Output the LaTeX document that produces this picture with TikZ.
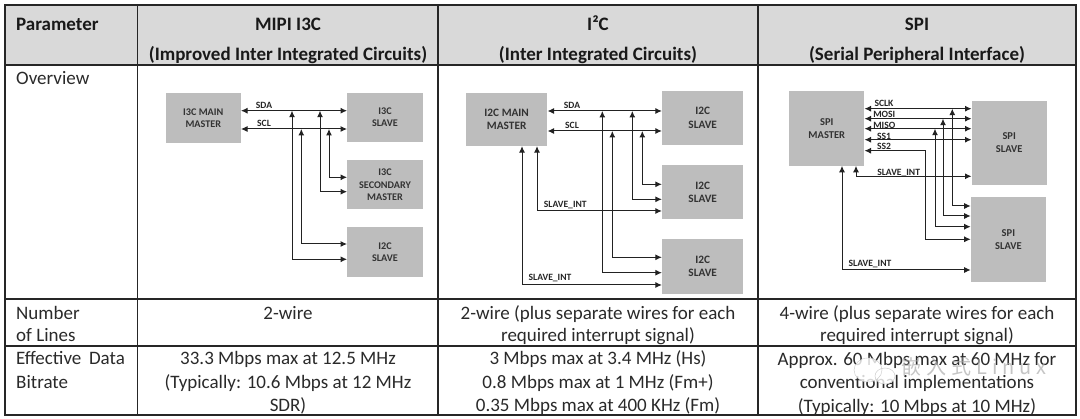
\documentclass[tikz,border=0pt]{standalone}
\usepackage{fontspec}
\setmainfont{Carlito}
\newfontfamily\cjkwm[LetterSpace=25]{Noto Sans CJK SC}
\usetikzlibrary{arrows.meta}
\definecolor{hdr}{HTML}{D9D9D9}
\definecolor{boxg}{HTML}{BDBDBD}
\definecolor{ink}{HTML}{2A2A2A}
\definecolor{wire}{HTML}{222222}
\tikzset{
  cellt/.style={inner sep=0pt,text=ink,yshift=-2.5pt,font=\fontsize{19}{22}\selectfont},
  lcell/.style={cellt,anchor=mid west},
  ccell/.style={cellt,anchor=mid},
  hcell/.style={inner sep=0pt,text=black!90,yshift=-2.5pt,font=\fontsize{19}{22}\selectfont\bfseries,anchor=mid},
  rule/.style={draw=black!85,line width=1.5pt},
  blockA/.style={fill=boxg,inner sep=0pt,align=center,text=black!80,font=\fontsize{10.2}{12.5}\selectfont\bfseries},
  blockB/.style={fill=boxg,inner sep=0pt,align=center,text=black!80,font=\fontsize{11.3}{13.5}\selectfont\bfseries},
  blockC/.style={fill=boxg,inner sep=0pt,align=center,text=black!80,font=\fontsize{10.5}{13}\selectfont\bfseries},
  sig/.style={inner sep=0pt,anchor=mid,yshift=-1pt,text=black!85,font=\fontsize{9.6}{10}\selectfont\bfseries},
  wa/.style={draw=wire,line width=1pt,{Latex[length=6.5pt,width=6pt]}-{Latex[length=6.5pt,width=6pt]}},
}
\begin{document}
\begin{tikzpicture}[x=1pt,y=-1pt]
\useasboundingbox (0,0) rectangle (1080,419);
\fill[white] (0,0) rectangle (1080,419);
% header
\fill[hdr] (5,5) rectangle (1076,65);
% rules
\coordinate (tl) at (5,5);
\coordinate (tr) at (1076,5);
\coordinate (bl) at (5,415);
\coordinate (br) at (1076,415);
\draw[rule] (tl) -- (tr) -- (br) -- (bl) -- cycle;
\draw[rule] (5,65) -- (1076,65);
\draw[rule] (5,299) -- (1076,299);
\draw[rule] (5,346) -- (1076,346);
\draw[rule] (137.5,5) -- (137.5,415);
\draw[rule] (438,5) -- (438,415);
\draw[rule] (758,5) -- (758,415);
% header text
\node[hcell,anchor=mid west] (hp) at (16,26) {Parameter};
\node[hcell] (h1a) at (288,26) {MIPI I3C};
\node[hcell] (h1b) at (288,55.5) {(Improved Inter Integrated Circuits)};
\node[hcell] (h2a) at (598,26) {I²C};
\node[hcell] (h2b) at (598,55.5) {(Inter Integrated Circuits)};
\node[hcell] (h3a) at (917,26) {SPI};
\node[hcell] (h3b) at (917,55.5) {(Serial Peripheral Interface)};
% first column
\node[lcell] (ov) at (16,80) {Overview};
\node[lcell] (n1) at (16,314.5) {Number};
\node[lcell] (n2) at (16,337) {of Lines};
\node[lcell] (e1) at (16,360) {Effective\hspace{0.4em}Data};
\node[lcell] (e2) at (16,384) {Bitrate};
% rows
\node[ccell] (r1a) at (288,314.5) {2-wire};
\node[ccell] (r1b) at (598,314.5) {2-wire (plus separate wires for each};
\node[ccell] (r1c) at (598,337) {required interrupt signal)};
\node[ccell] (r1d) at (917,314.5) {4-wire (plus separate wires for each};
\node[ccell] (r1e) at (917,337) {required interrupt signal)};
\node[ccell] (r2a) at (288,360) {33.3 Mbps max at 12.5 MHz};
\node[ccell] (r2b) at (288,384) {(Typically: 10.6 Mbps at 12 MHz};
\node[ccell] (r2c) at (288,407) {SDR)};
\node[ccell] (r2d) at (598,360) {3 Mbps max at 3.4 MHz (Hs)};
\node[ccell] (r2e) at (598,384) {0.8 Mbps max at 1 MHz (Fm+)};
\node[ccell] (r2f) at (598,407) {0.35 Mbps max at 400 KHz (Fm)};
\node[ccell] (r2g) at (917,360.5) {Approx. 60 Mbps max at 60 MHz for};
\node[ccell] (r2h) at (917,384) {conventional implementations};
\node[ccell] (r2i) at (917,407.5) {(Typically: 10 Mbps at 10 MHz)};
% --- I3C diagram
\node[blockA,minimum width=75pt,minimum height=49.5pt] (am) at (203.3,118) {I3C MAIN\\MASTER};
\node[blockA,minimum width=75.5pt,minimum height=49.5pt] (as1) at (385,117.3) {I3C\\SLAVE};
\node[blockA,minimum width=75.5pt,minimum height=49.5pt] (as2) at (385,184.7) {I3C\\SECONDARY\\MASTER};
\node[blockA,minimum width=75.5pt,minimum height=50pt] (as3) at (385,252.3) {I2C\\SLAVE};
\coordinate (asda) at (0,110.7);
\coordinate (ascl) at (0,129);
\draw[wa] (am.east |- asda) -- (as1.west |- asda);
\draw[wa] (am.east |- ascl) -- (as1.west |- ascl);
\coordinate (at1) at (292,110.7);
\coordinate (at2) at (301.3,129);
\coordinate (at3) at (320,110.7);
\coordinate (at4) at (329,129);
\draw[wa] (at1) |- (as3.west |- 0,259.3);
\draw[wa] (at2) |- (as3.west |- 0,244);
\draw[wa] (at3) |- (as2.west |- 0,191.7);
\draw[wa] (at4) |- (as2.west |- 0,177.3);
\node[sig] (asl1) at (264,105) {SDA};
\node[sig] (asl2) at (264,123.5) {SCL};
% --- I2C diagram
\node[blockB,minimum width=81.3pt,minimum height=53.3pt] (bm) at (506.7,119.3) {I2C MAIN\\MASTER};
\node[blockB,minimum width=81.3pt,minimum height=54pt] (bs1) at (702.7,118) {I2C\\SLAVE};
\node[blockB,minimum width=81.3pt,minimum height=54pt] (bs2) at (702.7,192.3) {I2C\\SLAVE};
\node[blockB,minimum width=81.3pt,minimum height=54.7pt] (bs3) at (702.7,266.3) {I2C\\SLAVE};
\coordinate (bsda) at (0,111);
\coordinate (bscl) at (0,131);
\draw[wa] (bm.east |- bsda) -- (bs1.west |- bsda);
\draw[wa] (bm.east |- bscl) -- (bs1.west |- bscl);
\coordinate (bt1) at (602.3,111);
\coordinate (bt2) at (612.3,131);
\coordinate (bt3) at (632.3,111);
\coordinate (bt4) at (642.3,131);
\draw[wa] (bt1) |- (bs3.west |- 0,272.7);
\draw[wa] (bt2) |- (bs3.west |- 0,257.3);
\draw[wa] (bt3) |- (bs2.west |- 0,199.3);
\draw[wa] (bt4) |- (bs2.west |- 0,184.3);
\draw[wa] (bm.south -| 537,0) |- (bs2.west |- 0,211);
\draw[wa] (bm.south -| 522,0) |- (bs3.west |- 0,285);
\node[sig] (bl1) at (572,105) {SDA};
\node[sig] (bl2) at (572,124.7) {SCL};
\node[sig] (bl3) at (565.3,204) {SLAVE\_INT};
\node[sig] (bl4) at (550,277) {SLAVE\_INT};
% --- SPI diagram
\node[blockC,minimum width=75pt,minimum height=74.7pt] (cm) at (826.8,128.3) {SPI\\MASTER};
\node[blockC,minimum width=75pt,minimum height=84.3pt] (cs1) at (1009.2,142.8) {SPI\\SLAVE};
\node[blockC,minimum width=75pt,minimum height=84.7pt] (cs2) at (1008.4,239.7) {SPI\\SLAVE};
\coordinate (cw1) at (0,108.7);
\coordinate (cw2) at (0,118.7);
\coordinate (cw3) at (0,128.7);
\coordinate (cw4) at (0,139.7);
\draw[wa] (cm.east |- cw1) -- (cs1.west |- cw1);
\draw[wa] (cm.east |- cw2) -- (cs1.west |- cw2);
\draw[wa] (cm.east |- cw3) -- (cs1.west |- cw3);
\draw[wa] (cm.east |- cw4) -- (cs1.west |- cw4);
\coordinate (ct1) at (952.3,108.7);
\coordinate (ct2) at (943,118.7);
\coordinate (ct3) at (935,128.7);
\draw[wa] (ct1) |- (cs2.west |- 0,206);
\draw[wa] (ct2) |- (cs2.west |- 0,216);
\draw[wa] (ct3) |- (cs2.west |- 0,226.7);
\coordinate (cb) at (925.7,150.7);
\draw[wa] (cm.east |- cb) -- (cb) |- (cs2.west |- 0,239.3);
\draw[wa] (cm.south -| 856,0) |- (cs1.west |- 0,176.3);
\draw[wa] (cm.south -| 842,0) |- (cs2.west |- 0,270);
\node[sig] (cl1) at (884,102.7) {SCLK};
\node[sig] (cl2) at (884.3,114) {MOSI};
\node[sig] (cl3) at (884.3,125) {MISO};
\node[sig] (cl4) at (884,135.7) {SS1};
\node[sig] (cl5) at (884,146.3) {SS2};
\node[sig] (cl6) at (898.7,171.7) {SLAVE\_INT};
\node[sig] (cl7) at (870,262.7) {SLAVE\_INT};
% watermark
\fill[white,opacity=0.8] (868,370) ellipse (14 and 12);
\fill[white,opacity=0.8] (885,376) ellipse (10 and 8);
\draw[black!22] (868,370) ellipse (14 and 12);
\draw[black!22] (885,376) ellipse (10 and 8);
\node[inner sep=0pt,anchor=mid,text=black!32,opacity=0.7,font=\fontsize{20}{22}\selectfont\cjkwm] (wm) at (974,372) {嵌入式Linux};
\end{tikzpicture}
\end{document}
